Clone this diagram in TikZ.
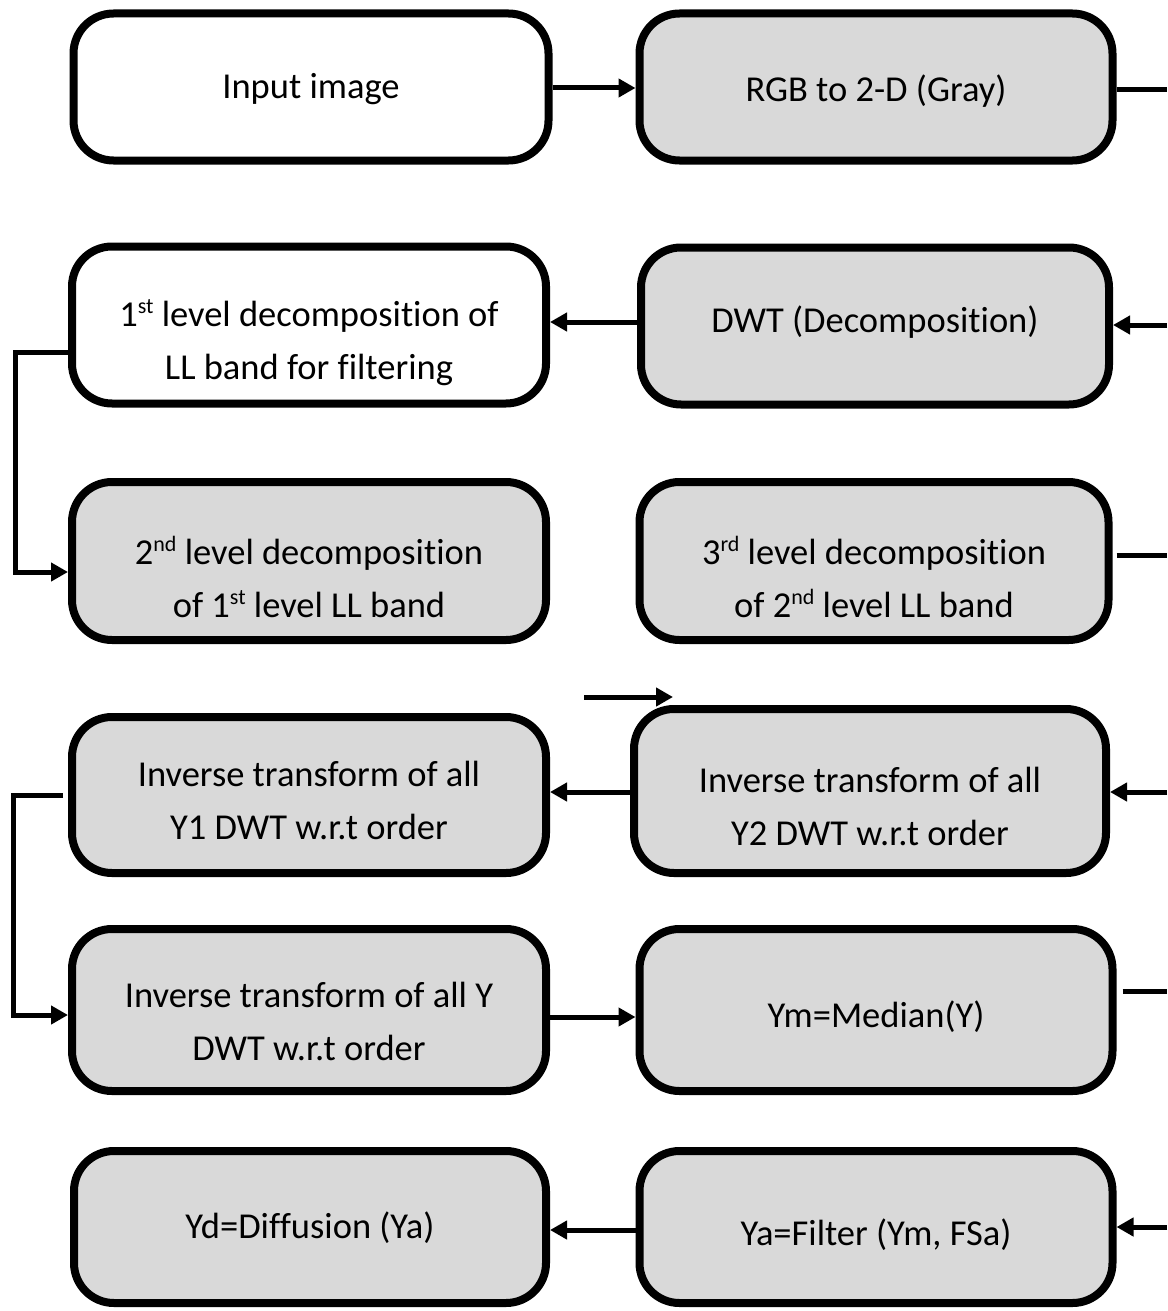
\documentclass[tikz,border=0pt]{standalone}
\usepackage{fontspec}
\setmainfont{Carlito}[Ligatures={NoCommon,NoContextual,NoRare},RawFeature={-liga;-clig;-dlig}]
\usepackage{xcolor}
\usepackage{tikz}
\usetikzlibrary{arrows.meta}
\definecolor{blockgray}{HTML}{D9D9D9}
\pgfkeys{tikz/myblock/.style={draw=black,line width=8pt,rounded corners=40pt,inner sep=0pt}}
\pgfkeys{tikz/myblockgray/.style={myblock,fill=blockgray}}
\pgfkeys{tikz/mytext/.style={align=center,inner sep=0pt,font=\fontsize{36.5}{53}\selectfont}}
\pgfkeys{tikz/mylink/.style={line width=5pt,-{Triangle[length=17pt,width=18pt]}}}
\pgfkeys{tikz/mystub/.style={line width=5pt}}
\newcommand*\mysup[1]{\raisebox{0.75ex}{\fontsize{22}{22}\selectfont #1}}

\begin{document}
\begin{tikzpicture}[x=1pt,y=-1pt]
    \useasboundingbox (0,0) rectangle (1167,1311);
    % left column
    \node[myblock,minimum width=475pt,minimum height=147pt] (input) at (311,87) {};
    \node[myblock,minimum width=474pt,minimum height=157pt] (lvlone) at (309,325) {};
    \node[myblockgray,minimum width=474pt,minimum height=158pt] (lvltwo) at (309,561) {};
    \node[myblockgray,minimum width=474pt,minimum height=156pt] (invone) at (309,795) {};
    \node[myblockgray,minimum width=474pt,minimum height=162pt] (invall) at (309,1010) {};
    \node[myblockgray,minimum width=472pt,minimum height=152pt] (diffuse) at (310,1227) {};
    % right column
    \node[myblockgray,minimum width=473pt,minimum height=147pt] (gray) at (876,87) {};
    \node[myblockgray,minimum width=468pt,minimum height=157pt] (dwt) at (875,326) {};
    \node[myblockgray,minimum width=469pt,minimum height=158pt] (lvlthree) at (874,561) {};
    \node[myblockgray,minimum width=472pt,minimum height=164pt] (invtwo) at (870,791) {};
    \node[myblockgray,minimum width=473pt,minimum height=162pt] (median) at (876,1010) {};
    \node[myblockgray,minimum width=473pt,minimum height=152pt] (filter) at (876,1227) {};
    % texts
    \node[mytext] (inputtext) at ([yshift=-2pt]input.center) {Input image};
    \begin{scope}
        \clip (0,0) rectangle (1167,387);
        \node[mytext] (lvlonetext) at ([yshift=-18pt]lvlone.center) {1\mysup{st} level decomposition of\\LL band for filtering};
    \end{scope}
    \node[mytext] (lvltwotext) at ([yshift=-16pt]lvltwo.center) {2\mysup{nd} level decomposition\\of 1\mysup{st} level LL band};
    \node[mytext] (invonetext) at ([yshift=-5pt]invone.center) {Inverse transform of all\\Y1 DWT w.r.t order};
    \node[mytext] (invalltext) at ([yshift=-11pt]invall.center) {Inverse transform of all Y\\DWT w.r.t order};
    \node[mytext] (diffusetext) at ([yshift=-1pt]diffuse.center) {Yd=Diffusion (Ya)};
    \node[mytext] (graytext) at ([yshift=-4pt]gray.center) {RGB to 2-D (Gray)};
    \node[mytext] (dwttext) at ([yshift=4pt]dwt.center) {DWT (Decomposition)};
    \node[mytext] (lvlthreetext) at ([yshift=-16pt]lvlthree.center) {3\mysup{rd} level decomposition\\of 2\mysup{nd} level LL band};
    \node[mytext] (invtwotext) at ([yshift=-15pt]invtwo.center) {Inverse transform of all\\Y2 DWT w.r.t order};
    \node[mytext] (mediantext) at ([yshift=-7pt]median.center) {Ym=Median(Y)};
    \node[mytext] (filtertext) at ([yshift=-8pt]filter.center) {Ya=Filter (Ym, FSa)};
    % free ends at the right edge
    \coordinate (grayout) at (1167,90);
    \coordinate (dwtin) at (1167,325);
    \coordinate (lvlthreeout) at (1167,555);
    \coordinate (invtwoin) at (1167,792);
    \coordinate (medianout) at (1167,991);
    \coordinate (filterin) at (1167,1227);
    \coordinate (loosestart) at (584,697);
    \coordinate (looseend) at (673,697);
    % connectors
    \draw[mylink] (input.east |- 0,88) -- (gray.west |- 0,88);
    \draw[mystub] (gray.east |- grayout) -- (grayout);
    \draw[mylink] (dwtin) -- (dwt.east |- dwtin);
    \draw[mylink] (dwt.west |- 0,322) -- (lvlone.east |- 0,322);
    \draw[mylink] ([yshift=-27pt]lvlone.west) -- ++(-53pt,0) |- ([yshift=-11pt]lvltwo.west);
    \draw[mystub] ([xshift=4pt]lvlthree.east |- lvlthreeout) -- (lvlthreeout);
    \draw[mylink] (loosestart) -- (looseend);
    \draw[mylink] (invtwoin) -- (invtwo.east |- invtwoin);
    \draw[mylink] (invtwo.west |- 0,792) -- (invone.east |- 0,792);
    \draw[mylink] ([xshift=-5pt]invone.west) -- ++(-50pt,0) |- ([yshift=-5pt]invall.west);
    \draw[mylink] (invall.east |- 0,1017) -- (median.west |- 0,1017);
    \draw[mystub] ([xshift=6pt]median.east |- medianout) -- (medianout);
    \draw[mylink] (filterin) -- (filter.east |- filterin);
    \draw[mylink] (filter.west |- 0,1230) -- (diffuse.east |- 0,1230);
\end{tikzpicture}
\end{document}
